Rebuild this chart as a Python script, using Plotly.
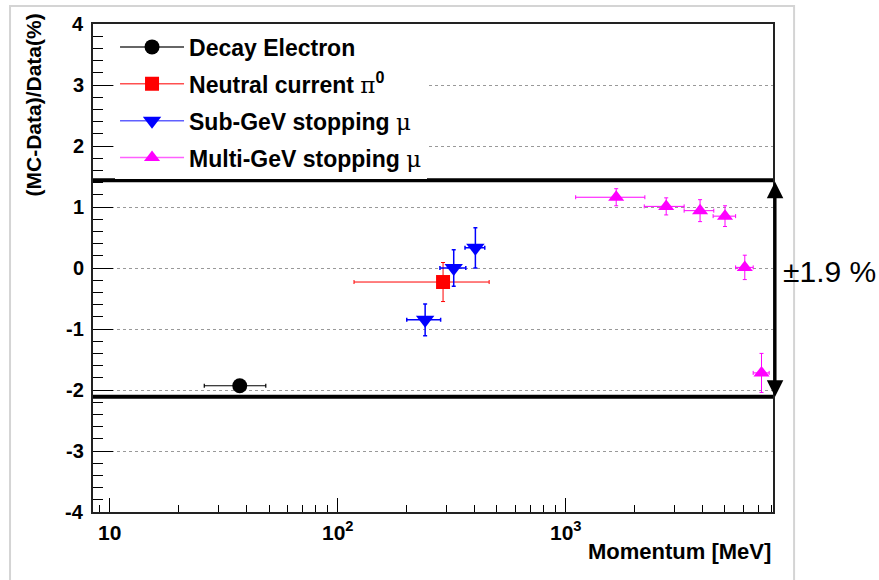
import math
import plotly.graph_objects as go

# ---- data: momentum [MeV], (MC-Data)/Data [%], and their errors ----
electron_p = [37.2]
electron_dp = [11.2]
electron_r = [-1.93]
electron_dr = [0.05]

pi0_p = [290]
pi0_dp = [172]
pi0_r = [-0.23]
pi0_dr = [0.32]

subgev_p = [242, 323, 402]
subgev_dp = [41, 42, 40]
subgev_r = [-0.85, 0.0, 0.33]
subgev_dr = [0.26, 0.30, 0.33]

multigev_p = [1667, 2762, 3889, 5003, 6110, 7233]
multigev_dp = [560, 549, 578, 566, 540, 583]
multigev_r = [1.16, 1.01, 0.94, 0.85, 0.01, -1.72]
multigev_dr = [0.14, 0.14, 0.18, 0.17, 0.20, 0.32]

# systematic band edges [%]
band_upper = 1.44
band_lower = -2.11
band_label = "±1.9 %"

x_major = [10, 100, 1000]
x_major_text = ["10", "10<sup>2</sup>", "10<sup>3</sup>"]
x_minor = [9] + [k * 10 for k in range(2, 10)] + [k * 100 for k in range(2, 10)] + [k * 1000 for k in range(2, 9)]
y_major = [-4, -3, -2, -1, 0, 1, 2, 3, 4]
y_major_text = [str(v) for v in y_major]

FONT = "Liberation Sans, Arial, Helvetica, sans-serif"
GREEK = "<span style='font-family:DejaVu Serif;font-weight:normal'>{}</span>"

series = [
    ("Decay Electron", electron_p, electron_dp, electron_r, electron_dr,
     "#000000", "#333333", "circle", 15, 1.2),
    ("Neutral current " + GREEK.format("π") + "<sup>0</sup>",
     pi0_p, pi0_dp, pi0_r, pi0_dr, "#ff0000", "#ff5050", "square", 14, 1.0),
    ("Sub-GeV stopping " + GREEK.format("μ"),
     subgev_p, subgev_dp, subgev_r, subgev_dr, "#0000ff", "#6060ff", "triangle-down", 16, 1.5),
    ("Multi-GeV stopping " + GREEK.format("μ"),
     multigev_p, multigev_dp, multigev_r, multigev_dr, "#ff00ff", "#ff60ff", "triangle-up", 14, 1.0),
]

fig = go.Figure()

for i, (name, px, dpx, ry, dry, col, lcol, sym, size, ew) in enumerate(series):
    fig.add_trace(go.Scatter(
        x=px, y=ry, mode="markers",
        marker=dict(symbol=sym, size=size, color=col, line=dict(width=0)),
        error_x=dict(type="data", array=dpx, color=col, thickness=ew, width=2),
        error_y=dict(type="data", array=dry, color=col, thickness=ew, width=2),
        showlegend=False, hoverinfo="x+y",
    ))
    # legend entry (line + marker)
    fig.add_trace(go.Scatter(
        x=[None], y=[None], mode="lines+markers", name=name,
        legendgroup=f"g{i}",
        marker=dict(symbol=sym, size=size, color=col),
        line=dict(color=lcol, width=1.5),
    ))

# systematic band boundaries
for yv in (band_upper, band_lower):
    fig.add_shape(type="line", xref="paper", yref="y", x0=0, x1=1, y0=yv, y1=yv,
                  line=dict(color="black", width=4), layer="above")

# double-headed arrow spanning the band
fig.add_annotation(xref="paper", yref="y", x=1.003, y=band_lower,
                   axref="pixel", ayref="y", ax=0, ay=band_upper,
                   text="", showarrow=True, arrowside="end+start",
                   arrowhead=2, arrowsize=1.1, arrowwidth=3, arrowcolor="black",
                   standoff=0, startstandoff=0)
fig.add_annotation(xref="paper", yref="paper", x=1.012, y=0.492,
                   xanchor="left", yanchor="middle", showarrow=False,
                   text=band_label, font=dict(family=FONT, size=30, color="black"))

# bold tick labels
for v, t in zip(y_major, y_major_text):
    fig.add_annotation(xref="paper", yref="y", x=0, y=v, xshift=-7,
                       xanchor="right", yanchor="middle", showarrow=False,
                       text=f"<b>{t}</b>", font=dict(family=FONT, size=20, color="black"))
for v, t in zip(x_major, x_major_text):
    fig.add_annotation(xref="x", yref="paper", x=math.log10(v), y=0, yshift=-34,
                       xanchor="center", yanchor="bottom", showarrow=False,
                       text=f"<b>{t}</b>", font=dict(family=FONT, size=21, color="black"))

# axis titles
fig.add_annotation(xref="paper", yref="paper", x=-0.088, y=1.025,
                   xanchor="center", yanchor="top", textangle=-90, showarrow=False,
                   text="<b>(MC-Data)/Data(%)</b>",
                   font=dict(family=FONT, size=21, color="black"))
fig.add_annotation(xref="paper", yref="paper", x=1.0, y=-0.08,
                   xanchor="right", yanchor="middle", showarrow=False,
                   text="<b>Momentum [MeV]</b>",
                   font=dict(family=FONT, size=22, color="black"))

# outer canvas border
fig.add_shape(type="rect", xref="paper", yref="paper", x0=-0.122, x1=1.031, y0=-0.25, y1=1.037,
              line=dict(color="#d4d4d4", width=2), layer="below")

fig.update_xaxes(
    type="log", range=[math.log10(8.45), math.log10(8124)],
    tickmode="array", tickvals=x_major, showticklabels=False,
    ticks="inside", ticklen=14, tickwidth=1.2, tickcolor="black",
    minor=dict(tickmode="array", tickvals=x_minor, ticks="inside", ticklen=7,
               tickwidth=1.2, tickcolor="black", showgrid=False),
    showgrid=False, zeroline=False,
    showline=True, linecolor="#222222", linewidth=1.5, mirror=True,
)
fig.update_yaxes(
    range=[-4, 4], tickmode="array", tickvals=y_major, showticklabels=False,
    ticks="inside", ticklen=20, tickwidth=1.2, tickcolor="black",
    minor=dict(dtick=0.2, ticks="inside", ticklen=10, tickwidth=1.2,
               tickcolor="black", showgrid=False),
    showgrid=True, gridcolor="#999999", gridwidth=1, griddash="dot",
    zeroline=False,
    showline=True, linecolor="#222222", linewidth=1.5, mirror=True,
)

fig.update_layout(
    width=879, height=580,
    margin=dict(l=93, r=106, t=24, b=68),
    paper_bgcolor="white", plot_bgcolor="white",
    font=dict(family=FONT, color="black"),
    legend=dict(
        x=0.0324, y=0.997, xanchor="left", yanchor="top",
        bgcolor="white", borderwidth=0,
        font=dict(family=FONT, size=23, color="black", weight="bold"),
        traceorder="grouped", tracegroupgap=4, itemwidth=64,
    ),
)

fig.write_html("out.html")
